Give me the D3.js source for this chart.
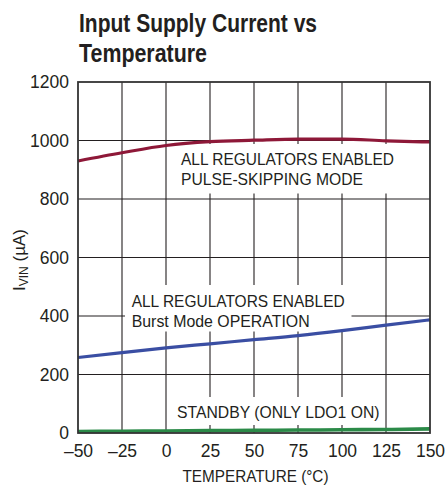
<!DOCTYPE html>
<html>
<head>
<meta charset="utf-8">
<script src="https://cdn.jsdelivr.net/npm/d3@7"></script>
<style>
  html, body { margin: 0; padding: 0; background: #fff; }
  svg { display: block; }
</style>
</head>
<body>
<div id="chart"></div>
<script>
// ---- data ----
const temps = [-50, -25, 0, 25, 50, 75, 100, 125, 150];
const pulseSkipping = [930, 958, 983, 996, 1001, 1005, 1005, 999, 995];
const burstMode = [258, 275, 291, 305, 319, 333, 350, 369, 387];
const standby = [5, 6, 7, 8, 9, 10, 11, 12, 14];
const xTicks = [-50, -25, 0, 25, 50, 75, 100, 125, 150];
const yTicks = [0, 200, 400, 600, 800, 1000, 1200];
const titleLines = ["Input Supply Current vs", "Temperature"];

const W = 447, H = 486;
const m = { left: 78, right: 430, top: 82, bottom: 433 };

const svg = d3.select("#chart").append("svg").attr("width", W).attr("height", H);

const x = d3.scaleLinear().domain([-50, 150]).range([m.left, m.right]);
const y = d3.scaleLinear().domain([0, 1200]).range([m.bottom, m.top]);

const FONT = "'Liberation Sans', Arial, sans-serif";
const NARROW = "'Liberation Sans Narrow', 'Liberation Sans', Arial, sans-serif";

// title
svg.append("text").attr("x", 79).attr("y", 31.5)
  .attr("font-family", NARROW).attr("font-weight", "bold").attr("font-size", 25)
  .attr("fill", "#231f20").attr("textLength", 238).attr("lengthAdjust", "spacingAndGlyphs")
  .text(titleLines[0]);
svg.append("text").attr("x", 79).attr("y", 61.5)
  .attr("font-family", NARROW).attr("font-weight", "bold").attr("font-size", 25)
  .attr("fill", "#231f20").attr("textLength", 128).attr("lengthAdjust", "spacingAndGlyphs")
  .text(titleLines[1]);

// gridlines
const grid = svg.append("g").attr("stroke", "#231f20").attr("stroke-width", 1.1);
xTicks.slice(1, -1).forEach(t => {
  grid.append("line").attr("x1", x(t)).attr("x2", x(t)).attr("y1", m.top).attr("y2", m.bottom);
});
yTicks.slice(1, -1).forEach(t => {
  grid.append("line").attr("x1", m.left).attr("x2", m.right).attr("y1", y(t)).attr("y2", y(t));
});

// label backgrounds (mask gridlines)
const boxes = [
  { x0: 168, x1: 402, y0: 144, y1: 193.5 },
  { x0: 125, x1: 351.5, y0: 285, y1: 331.5 },
  { x0: 168, x1: 383, y0: 397, y1: 425 }
];
boxes.forEach(b => {
  svg.append("rect").attr("x", b.x0).attr("y", b.y0)
    .attr("width", b.x1 - b.x0).attr("height", b.y1 - b.y0).attr("fill", "#fff");
});

// curves
const line = d3.line().x(d => x(d[0])).y(d => y(d[1])).curve(d3.curveMonotoneX);
const series = [
  { vals: pulseSkipping, color: "#8e1838", w: 3.2 },
  { vals: burstMode, color: "#3a4ea3", w: 3.2 },
  { vals: standby, color: "#2b8a48", w: 3.6 }
];
series.forEach(s => {
  svg.append("path").datum(temps.map((t, i) => [t, s.vals[i]]))
    .attr("d", line).attr("fill", "none").attr("stroke", s.color)
    .attr("stroke-width", s.w).attr("stroke-linecap", "butt");
});

// frame
svg.append("rect").attr("x", m.left).attr("y", m.top)
  .attr("width", m.right - m.left).attr("height", m.bottom - m.top)
  .attr("fill", "none").attr("stroke", "#333").attr("stroke-width", 1.8);

// axes (labels only)
const xAxis = d3.axisBottom(x).tickValues(xTicks).tickSize(0).tickPadding(12)
  .tickFormat(d => d < 0 ? "\u2013" + Math.abs(d) : String(d));
const gx = svg.append("g").attr("transform", `translate(0,${m.bottom})`).call(xAxis);
gx.select(".domain").remove();
gx.selectAll("text").attr("font-family", FONT).attr("font-size", 17.5).attr("fill", "#231f20");

const yAxis = d3.axisLeft(y).tickValues(yTicks).tickSize(0).tickPadding(9)
  .tickFormat(d => String(d));
const gy = svg.append("g").attr("transform", `translate(${m.left},0)`).call(yAxis);
gy.select(".domain").remove();
gy.selectAll("text").attr("font-family", FONT).attr("font-size", 17.5).attr("fill", "#231f20");

// annotation labels
const labels = [
  { t: "ALL REGULATORS ENABLED", x: 181, y: 165, w: 213 },
  { t: "PULSE-SKIPPING MODE", x: 181, y: 185, w: 182 },
  { t: "ALL REGULATORS ENABLED", x: 131.7, y: 306.7, w: 213 },
  { t: "Burst Mode OPERATION", x: 131.7, y: 326.7, w: 178 },
  { t: "STANDBY (ONLY LDO1 ON)", x: 177, y: 418.3, w: 202.5 }
];
labels.forEach(l => {
  svg.append("text").attr("x", l.x).attr("y", l.y)
    .attr("font-family", FONT).attr("font-size", 17).attr("fill", "#231f20")
    .attr("textLength", l.w).attr("lengthAdjust", "spacingAndGlyphs").text(l.t);
});

// axis titles
svg.append("text").attr("x", 255.5).attr("y", 482).attr("text-anchor", "middle")
  .attr("font-family", FONT).attr("font-size", 16.5).attr("fill", "#231f20")
  .attr("textLength", 146).attr("lengthAdjust", "spacingAndGlyphs")
  .text("TEMPERATURE (\u00B0C)");

const yt = svg.append("text").attr("transform", "translate(25,260) rotate(-90)")
  .attr("text-anchor", "middle").attr("font-family", FONT).attr("font-size", 17)
  .attr("fill", "#231f20");
yt.append("tspan").text("I");
yt.append("tspan").attr("font-size", 12).attr("dy", 3).text("VIN");
yt.append("tspan").attr("dy", -3).text(" (\u00B5A)");
</script>
</body>
</html>
